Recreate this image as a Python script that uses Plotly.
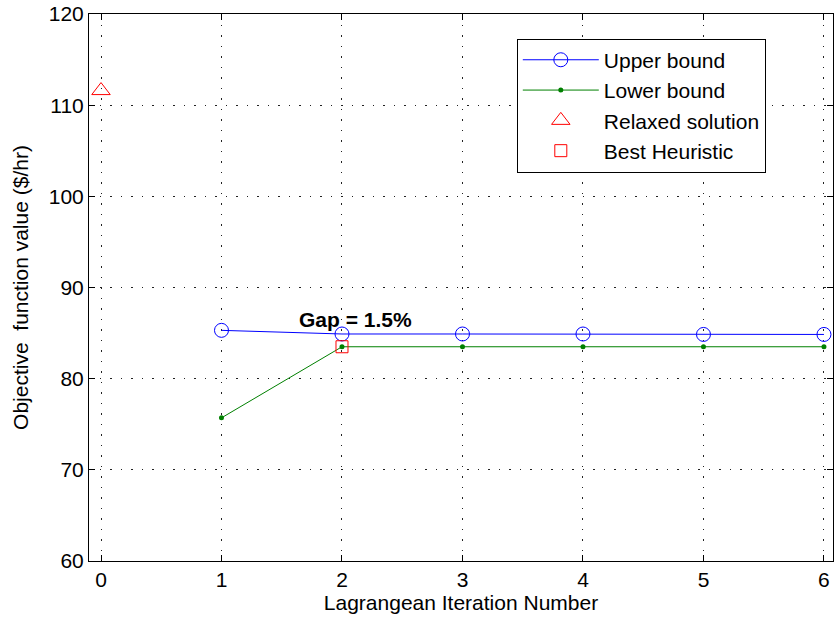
import plotly.graph_objects as go

# Lagrangean relaxation convergence data
iterations = [1, 2, 3, 4, 5, 6]
upper_bound = [85.3, 84.9, 84.9, 84.9, 84.85, 84.85]
lower_bound = [75.7, 83.5, 83.5, 83.5, 83.5, 83.5]
relaxed_x = [0]
relaxed_y = [111.6]
heuristic_x = [2]
heuristic_y = [83.5]
gap_text = "Gap = 1.5%"

FONT = "Liberation Sans, Arial, sans-serif"

fig = go.Figure()
fig.add_trace(go.Scatter(
    x=iterations, y=upper_bound, name="Upper bound", mode="lines+markers",
    line=dict(color="#0000ff", width=1),
    marker=dict(symbol="circle-open", size=14, color="#0000ff", line=dict(width=1)),
))
fig.add_trace(go.Scatter(
    x=iterations, y=lower_bound, name="Lower bound", mode="lines+markers",
    line=dict(color="#008000", width=1),
    marker=dict(symbol="circle", size=5, color="#008000"),
))
fig.add_trace(go.Scatter(
    x=relaxed_x, y=relaxed_y, name="Relaxed solution", mode="markers",
    marker=dict(symbol="triangle-up-open", size=16, color="#ff0000", line=dict(width=1)),
))
fig.add_trace(go.Scatter(
    x=heuristic_x, y=heuristic_y, name="Best Heuristic", mode="markers",
    marker=dict(symbol="square-open", size=12, color="#ff0000", line=dict(width=1)),
))

fig.add_annotation(
    x=2.11, y=86.45, text="<b>%s</b>" % gap_text, showarrow=False,
    font=dict(family=FONT, size=21, color="black"),
)

axis_common = dict(
    showline=True, linecolor="black", linewidth=1, mirror="allticks",
    ticks="inside", ticklen=6, tickcolor="black",
    showgrid=True, gridcolor="#222222", griddash="1.5px,9px", gridwidth=1,
    zeroline=False, tickfont=dict(family=FONT, size=21, color="black"),
)

fig.update_layout(
    width=834, height=622,
    margin=dict(l=89, r=1, t=14, b=61),
    paper_bgcolor="white", plot_bgcolor="white",
    font=dict(family=FONT, color="black"),
    showlegend=True,
    legend=dict(
        x=0.575, y=0.955, xanchor="left", yanchor="top",
        bgcolor="white", bordercolor="black", borderwidth=1,
        font=dict(family=FONT, size=21, color="black"),
        tracegroupgap=0, itemwidth=76,
    ),
    xaxis=dict(
        range=[-0.0996, 6.075], tickvals=[0, 1, 2, 3, 4, 5, 6],
        title=dict(text="Lagrangean Iteration Number",
                   font=dict(family=FONT, size=21), standoff=3),
        **axis_common,
    ),
    yaxis=dict(
        range=[60, 120], tickvals=[60, 70, 80, 90, 100, 110, 120],
        title=dict(text="Objective\u00a0 function value ($/hr)",
                   font=dict(family=FONT, size=21), standoff=14),
        **axis_common,
    ),
)

fig.write_html("out.html")
